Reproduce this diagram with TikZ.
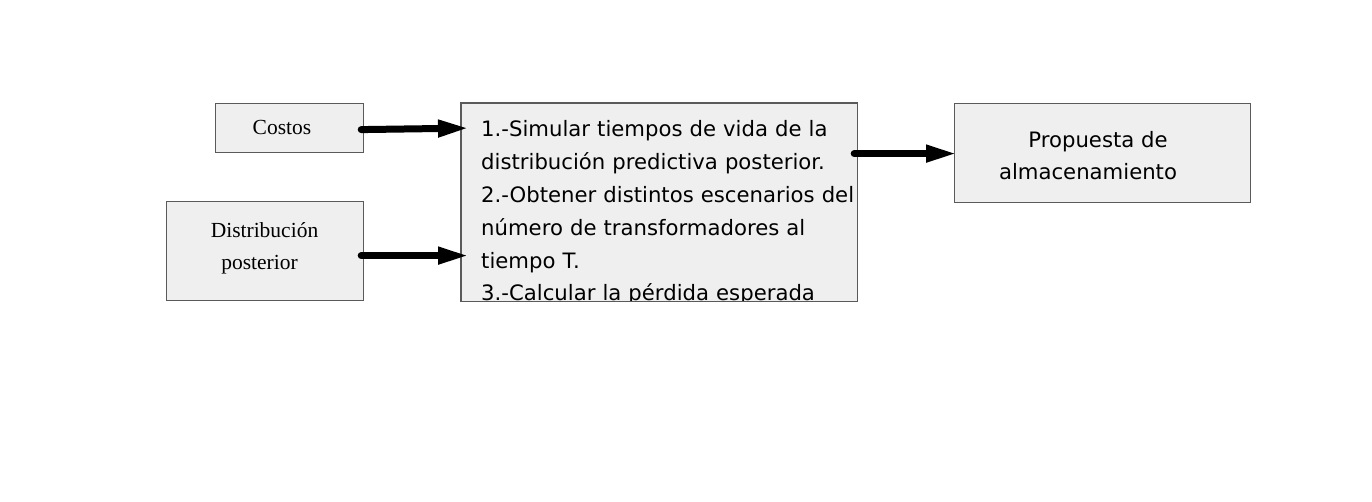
\documentclass[tikz,border=0pt]{standalone}
\usepackage{fontspec}
\setmainfont{Liberation Serif}
\newfontfamily\boxsans{DejaVu Sans}
\usetikzlibrary{arrows.meta,calc}
\definecolor{boxfill}{HTML}{EFEFEF}
\definecolor{boxline}{HTML}{5A5A5A}
\tikzset{
  blockbox/.style={draw=boxline, fill=boxfill, line width=1.2pt, inner sep=0pt, anchor=north west},
  fatarrow/.style={line width=7pt, line cap=round, -{Triangle[length=31pt,width=16pt]}},
  serifl/.style={font=\fontsize{21.5}{32}\selectfont, align=center},
  sansl/.style={font=\boxsans\fontsize{21.2}{32.8}\selectfont}
}
\begin{document}
\begin{tikzpicture}[x=1pt,y=-1pt]
\useasboundingbox (0,0) rectangle (1372,502);
% boxes
\node[blockbox, minimum width=148pt, minimum height=49pt] (costos) at (215,103) {};
\node[blockbox, minimum width=197pt, minimum height=99pt] (dist) at (166,201) {};
\node[blockbox, draw=none, minimum width=395pt, minimum height=197pt] (mid) at (461,103) {};
\node[blockbox, minimum width=296pt, minimum height=99pt] (prop) at (954,103) {};
% texts
\node[serifl, anchor=base] (tcostos) at (282,135) {Costos};
\node[serifl, anchor=base] (tdist1) at (264.5,238) {Distribución};
\node[serifl, anchor=base] (tdist2) at (259.5,270) {posterior};
\node[sansl, anchor=base] (tprop1) at (1098,148) {Propuesta de};
\node[sansl, anchor=base] (tprop2) at (1088,180) {almacenamiento};
\begin{scope}
\clip (mid.north west) rectangle (mid.south east);
\node[sansl, anchor=base west, text width=390pt, align=left, inner sep=0pt] (tmid) at (481,137)
{1.-Simular tiempos de vida de la\\
distribución predictiva posterior.\\
2.-Obtener distintos escenarios del\\
número de transformadores al\\
tiempo T.\\
3.-Calcular la pérdida esperada};
\end{scope}
\draw[draw=boxline, line width=1.2pt] (mid.north west) rectangle (mid.south east);
% arrows
\draw[fatarrow] ($(costos.east)+(-3,1.5)$) -- ($(mid.west)+(8,-74)$);
\draw[fatarrow] ($(dist.east)+(-3,4.5)$) -- ($(mid.west)+(8,53.5)$);
\draw[fatarrow] ($(mid.east)+(-3,-48.5)$) -- ($(prop.west)+(3,0.5)$);
\end{tikzpicture}
\end{document}
